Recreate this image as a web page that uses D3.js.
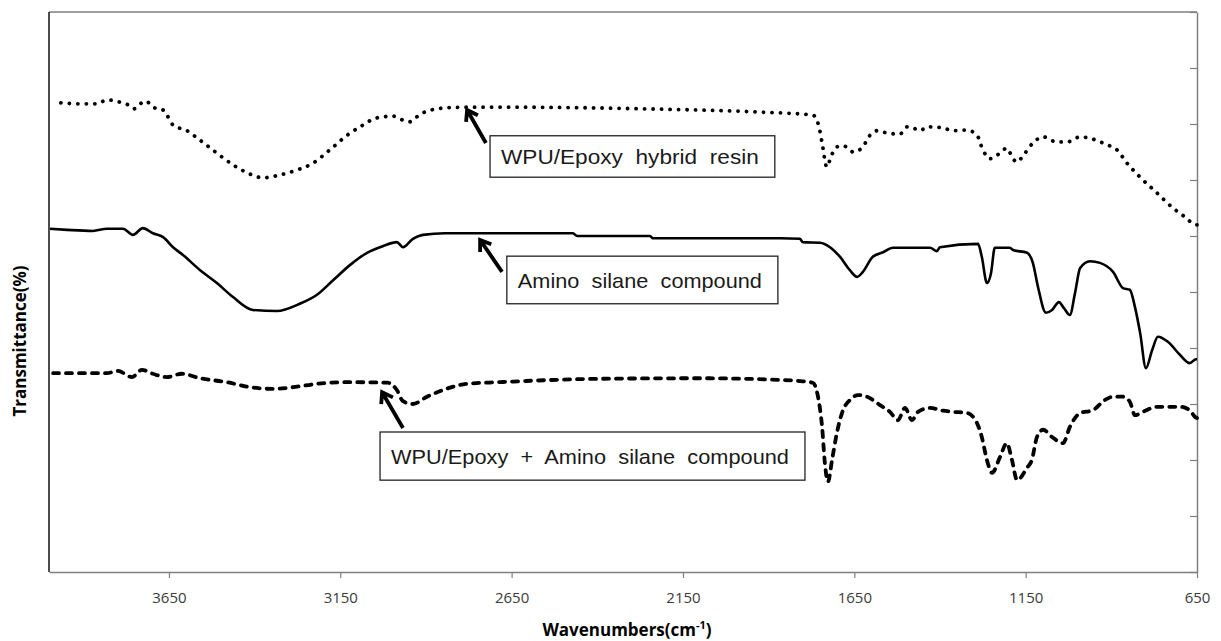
<!DOCTYPE html>
<html>
<head>
<meta charset="utf-8">
<title>FT-IR spectra</title>
<script src="https://d3js.org/d3.v7.min.js"></script>
<style>
  body { margin: 0; background: #fff; }
  svg { display: block; }
</style>
</head>
<body>
<div id="wrapper"></div>
<script>
// x tick labels (wavenumber, cm-1)
const xTicks = [3650, 3150, 2650, 2150, 1650, 1150, 650];

// WPU/Epoxy hybrid resin (dotted) : [wavenumber, transmittance]
const hybridResin = [
  [3985, 83.9], [3910, 83.6], [3860, 83.6], [3831, 84.3], [3793, 83.9], [3769, 83.4],
  [3752, 82.7], [3734, 83.6], [3717, 84.1], [3697, 83.0], [3667, 82.5], [3656, 81.6],
  [3638, 79.8], [3597, 78.8], [3559, 77.1], [3510, 74.8], [3463, 72.7], [3422, 71.3],
  [3376, 70.4], [3326, 70.9], [3276, 71.8], [3230, 73.0], [3180, 75.4], [3130, 78.0],
  [3092, 79.5], [3043, 81.1], [2996, 81.4], [2967, 80.7], [2947, 80.4], [2926, 81.3],
  [2909, 82.0], [2839, 82.9], [2780, 83.0], [2646, 83.0], [2255, 82.7], [1917, 82.1],
  [1771, 81.6], [1753, 79.5], [1744, 76.6], [1730, 72.3], [1721, 73.6], [1712, 75.0],
  [1692, 76.1], [1671, 75.9], [1654, 75.0], [1628, 75.7], [1604, 78.0], [1584, 78.8],
  [1555, 78.4], [1517, 78.2], [1496, 79.5], [1479, 79.3], [1458, 78.8], [1438, 79.5],
  [1391, 79.3], [1362, 78.8], [1321, 78.9], [1292, 78.0], [1275, 75.4], [1254, 73.8],
  [1225, 74.8], [1205, 75.7], [1187, 73.8], [1175, 73.2], [1158, 74.3], [1129, 76.6],
  [1099, 77.7], [1059, 76.8], [1029, 76.8], [991, 77.7], [954, 77.3], [913, 76.3],
  [884, 75.4], [854, 73.0], [816, 70.5], [767, 67.7], [720, 65.0], [685, 63.4],
  [653, 62.0], [650, 62.0]
];

// Amino silane compound (solid)
const aminoSilane = [
  [3997, 61.3], [3947, 61.1], [3872, 60.9], [3831, 61.3], [3784, 61.3], [3755, 60.2],
  [3726, 61.4], [3697, 60.5], [3667, 59.8], [3638, 58.0], [3609, 56.6], [3559, 53.9],
  [3510, 51.6], [3463, 49.1], [3405, 46.8], [3335, 46.6], [3268, 47.9], [3218, 49.5],
  [3171, 52.1], [3122, 54.8], [3072, 57.0], [3025, 58.2], [2985, 58.9], [2967, 58.0],
  [2938, 59.5], [2909, 60.2], [2844, 60.5], [2471, 60.5], [2459, 60.0], [2246, 60.0],
  [2238, 59.6], [1867, 59.6], [1809, 59.5], [1800, 58.9], [1750, 58.8], [1721, 58.0],
  [1692, 56.3], [1663, 53.9], [1642, 52.7], [1625, 53.6], [1596, 56.3], [1566, 57.1],
  [1537, 57.9], [1429, 57.9], [1409, 57.3], [1400, 58.0], [1289, 58.6], [1278, 56.3],
  [1263, 51.6], [1251, 53.4], [1240, 57.9], [1196, 57.9], [1187, 57.5], [1146, 57.0],
  [1129, 55.2], [1114, 50.9], [1091, 46.3], [1073, 46.8], [1053, 48.2], [1038, 47.1],
  [1021, 45.9], [1006, 49.8], [991, 54.3], [962, 55.5], [933, 55.2], [895, 53.6],
  [866, 50.7], [846, 50.4], [831, 47.3], [816, 42.7], [799, 36.4], [781, 39.6],
  [764, 42.0], [735, 41.1], [700, 38.8], [671, 37.3], [653, 38.0], [650, 38.0]
];

// WPU/Epoxy + Amino silane compound (dashed)
const hybridPlusSilane = [
  [3988, 35.5], [3901, 35.5], [3831, 35.5], [3799, 35.9], [3758, 34.8], [3729, 36.1],
  [3697, 35.4], [3656, 34.8], [3612, 35.4], [3559, 34.6], [3481, 33.9], [3413, 33.0],
  [3346, 32.7], [3288, 33.0], [3218, 33.6], [3122, 33.9], [3011, 33.8], [2985, 32.5],
  [2967, 30.5], [2938, 30.0], [2897, 31.3], [2850, 32.5], [2780, 33.6], [2684, 33.9],
  [2392, 34.5], [2100, 34.6], [1867, 34.3], [1809, 34.1], [1771, 33.8], [1756, 31.3],
  [1744, 25.9], [1736, 19.5], [1727, 16.1], [1715, 20.0], [1701, 24.8], [1683, 28.9],
  [1663, 30.7], [1639, 31.6], [1613, 31.3], [1575, 29.8], [1546, 28.6], [1523, 27.1],
  [1502, 29.3], [1482, 27.1], [1464, 28.6], [1429, 29.3], [1391, 28.8], [1362, 28.6],
  [1321, 28.4], [1292, 26.6], [1278, 24.1], [1263, 20.0], [1248, 17.7], [1225, 20.5],
  [1205, 23.0], [1190, 20.0], [1175, 16.4], [1146, 18.6], [1132, 20.0], [1117, 24.1],
  [1099, 25.4], [1073, 24.1], [1041, 23.0], [1021, 25.9], [991, 28.4], [954, 28.9],
  [919, 30.7], [895, 31.3], [866, 31.3], [846, 30.4], [831, 28.0], [808, 28.6],
  [767, 29.5], [729, 29.5], [700, 29.5], [671, 28.9], [656, 27.7], [650, 27.5]
];

// annotation labels: text, box corners [wn, T], arrow tail -> tip [wn, T]
const labelTexts = ["WPU/Epoxy hybrid resin", "Amino silane compound", "WPU/Epoxy + Amino silane compound"];
const labelBoxes = [[2713, 77.9, 1882, 70.5], [2664, 56.4, 1873, 47.9], [3034, 25.0, 1794, 16.4]];
const labelArrows = [[2725, 76.6, 2780, 82.5], [2678, 53.6, 2742, 59.3], [2967, 25.7, 3028, 32.1]];

const dimensions = { width: 1221, height: 641, left: 49, right: 1197, top: 12, bottom: 572 };

const svg = d3.select("#wrapper").append("svg")
  .attr("width", dimensions.width).attr("height", dimensions.height);

const xScale = d3.scaleLinear().domain([4000, 650]).range([dimensions.left, dimensions.right]);
const yScale = d3.scaleLinear().domain([0, 100]).range([dimensions.bottom, dimensions.top]);

// frame
svg.append("line").attr("x1", dimensions.left).attr("x2", dimensions.right)
  .attr("y1", dimensions.top).attr("y2", dimensions.top)
  .attr("stroke", "#7f7f7f").attr("stroke-width", 1.5);
svg.append("line").attr("x1", dimensions.left).attr("x2", dimensions.left)
  .attr("y1", dimensions.top).attr("y2", dimensions.bottom)
  .attr("stroke", "#111").attr("stroke-width", 1.5);

// x axis
const xAxis = svg.append("g")
  .attr("transform", `translate(0,${dimensions.bottom})`)
  .call(d3.axisBottom(xScale).tickValues(xTicks).tickFormat(d3.format("d"))
    .tickSize(6).tickSizeOuter(0).tickPadding(14));
xAxis.select(".domain").attr("stroke", "#7f7f7f").attr("stroke-width", 1.5);
xAxis.selectAll(".tick line").attr("stroke", "#7f7f7f").attr("stroke-width", 1.2);
xAxis.selectAll(".tick text").attr("fill", "#3b3b3b")
  .style("font-family", "'Open Sans', sans-serif").style("font-size", "15px");

// right axis (ticks pointing into the plot, no labels)
const yAxis = svg.append("g")
  .attr("transform", `translate(${dimensions.right},0)`)
  .call(d3.axisLeft(yScale).ticks(10).tickSize(7).tickSizeOuter(0).tickFormat(""));
yAxis.select(".domain").attr("stroke", "#7f7f7f").attr("stroke-width", 1.5);
yAxis.selectAll(".tick line").attr("stroke", "#7f7f7f").attr("stroke-width", 1.2);

// spectra
const lineGenerator = d3.line().x(d => xScale(d[0])).y(d => yScale(d[1])).curve(d3.curveMonotoneX);
const plot = svg.append("g");

plot.append("path").attr("d", lineGenerator(hybridResin.slice().reverse()))
  .attr("fill", "none").attr("stroke", "#000").attr("stroke-width", 3.8)
  .attr("stroke-linecap", "round").attr("stroke-dasharray", "0.1 8.4");

plot.append("path").attr("d", lineGenerator(aminoSilane.slice().reverse()))
  .attr("fill", "none").attr("stroke", "#000").attr("stroke-width", 2.6)
  .attr("stroke-linejoin", "round");

plot.append("path").attr("d", lineGenerator(hybridPlusSilane.slice().reverse()))
  .attr("fill", "none").attr("stroke", "#000").attr("stroke-width", 3.8)
  .attr("stroke-linecap", "round").attr("stroke-dasharray", "6 7");

// annotations
labelTexts.forEach((t, i) => {
  const b = labelBoxes[i];
  const x0 = xScale(b[0]), y0 = yScale(b[1]), x1 = xScale(b[2]), y1 = yScale(b[3]);
  svg.append("rect").attr("x", x0).attr("y", y0).attr("width", x1 - x0).attr("height", y1 - y0)
    .attr("fill", "#fff").attr("stroke", "#222").attr("stroke-width", 1.3);
  svg.append("text").attr("x", x0 + 11).attr("y", (y0 + y1) / 2 + 8)
    .attr("textLength", x1 - x0 - 27).attr("lengthAdjust", "spacingAndGlyphs")
    .style("font-family", "'Liberation Sans', Arial, sans-serif")
    .style("word-spacing", "6px")
    .style("font-size", "21px").attr("fill", "#1a1a1a").text(t);

  const a = labelArrows[i];
  const tx = xScale(a[0]), ty = yScale(a[1]), hx = xScale(a[2]), hy = yScale(a[3]);
  const ang = Math.atan2(hy - ty, hx - tx);
  const len = 12, spread = 0.6;
  const p1 = [hx - len * Math.cos(ang - spread), hy - len * Math.sin(ang - spread)];
  const p2 = [hx - len * Math.cos(ang + spread), hy - len * Math.sin(ang + spread)];
  svg.append("path")
    .attr("d", `M${tx},${ty}L${hx},${hy}M${p1[0]},${p1[1]}L${hx},${hy}L${p2[0]},${p2[1]}`)
    .attr("fill", "none").attr("stroke", "#000").attr("stroke-width", 3.8)
    .attr("stroke-linejoin", "miter").attr("stroke-linecap", "butt");
});

// axis titles
svg.append("text")
  .attr("transform", `translate(26,341) rotate(-90)`)
  .attr("text-anchor", "middle")
  .style("font-family", "'Open Sans', sans-serif").style("font-size", "17px").style("font-weight", "bold")
  .text("Transmittance(%)");

const xTitle = svg.append("text")
  .attr("x", 627).attr("y", 636)
  .attr("text-anchor", "middle")
  .style("font-family", "'Open Sans', sans-serif").style("font-size", "17px").style("font-weight", "bold");
xTitle.append("tspan").text("Wavenumbers(cm");
xTitle.append("tspan").attr("dy", -7).style("font-size", "11px").text("-1");
xTitle.append("tspan").attr("dy", 7).text(")");
</script>
</body>
</html>
